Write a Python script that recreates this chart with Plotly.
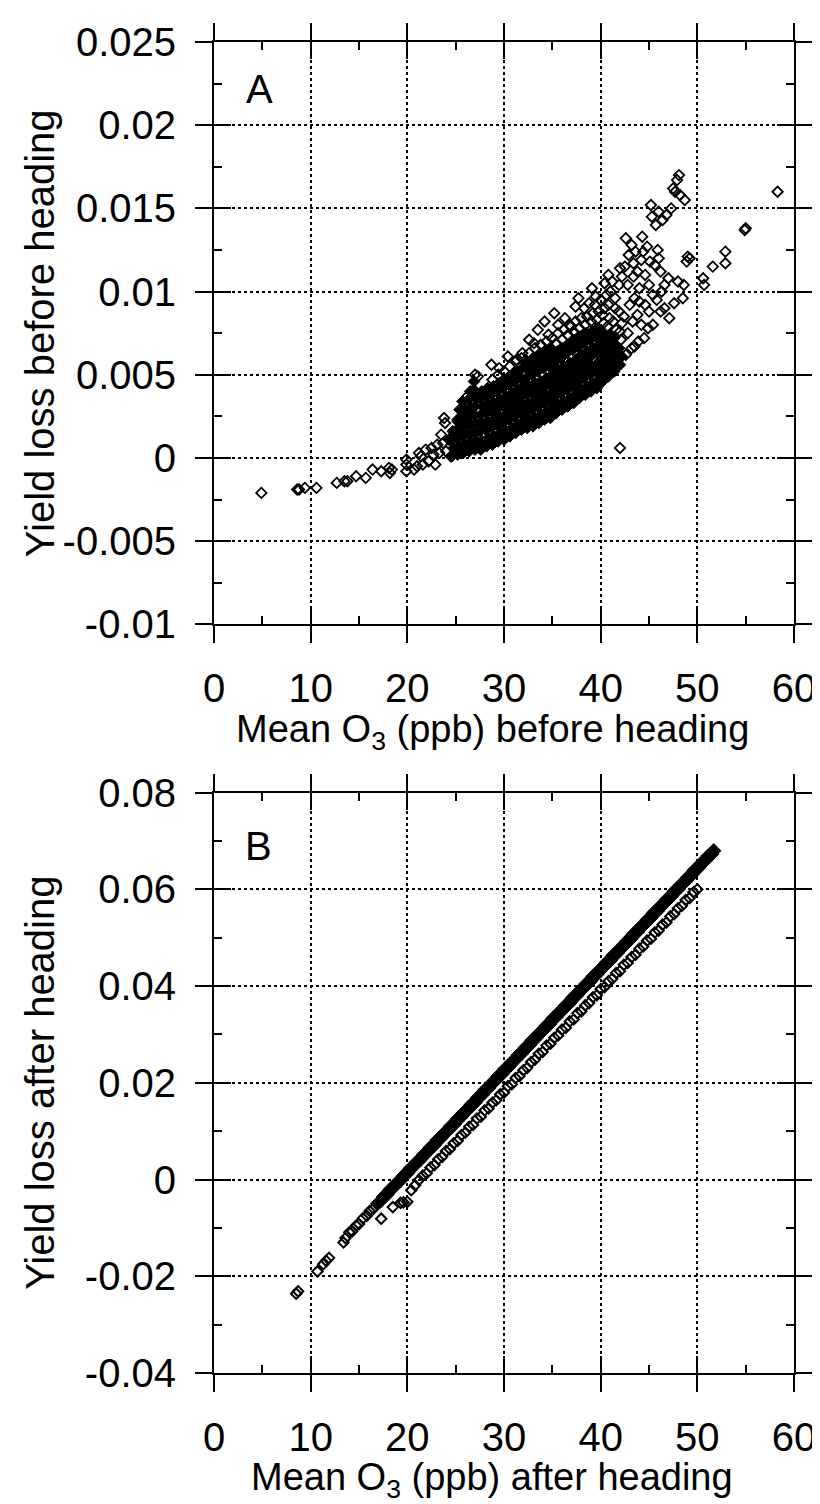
import plotly.graph_objects as go

# ---- panel A: yield loss before heading ----
# isolated points on the left tail of the cloud
tail_a = [
    (4.9, -0.0021), (8.6, -0.0019), (8.8, -0.0019), (9.4, -0.0018), (10.6, -0.0018),
    (12.7, -0.0015), (13.5, -0.0014), (13.8, -0.0014), (14.7, -0.0011), (15.7, -0.0012),
    (16.4, -0.0007), (17.3, -0.0008), (18.1, -0.0006), (18.2, -0.0009), (18.4, -0.0007),
    (19.9, -0.0001), (19.9, -0.0004), (19.9, -0.0008), (20.7, -0.0007), (21.0, -0.0005),
    (21.2, 0.0003), (21.4, 0.0001), (21.6, -0.0004), (21.9, 0.0005), (22.2, -0.0002),
    (22.5, 0.0006), (22.7, 0.0002), (22.9, -0.0004), (23.1, 0.0008), (23.3, 0.0003),
    (23.5, 0.0014), (23.8, 0.0024), (23.9, 0.0021), (23.7, 0.0009), (24.0, 0.0004),
    (24.3, 0.0011), (24.5, 0.0001), (25.2, 0.0022), (26.0, 0.0024),
]

# the dense part of the cloud
core_a = [
    (24.6, 0.0001), (24.8, 0.0006), (24.5, 0.0011), (24.7, 0.0016),
    (25.2, 0.0002), (25.4, 0.0007), (25.1, 0.0012), (25.3, 0.0018), (25.2, 0.0023), (25.4, 0.0029),
    (25.8, 0.0003), (26.0, 0.0008), (25.7, 0.0013), (25.9, 0.0019), (25.8, 0.0024), (26.0, 0.0029), (25.7, 0.0034),
    (26.4, 0.0004), (26.6, 0.0009), (26.3, 0.0014), (26.5, 0.0020), (26.4, 0.0025), (26.6, 0.0030), (26.3, 0.0035), (26.5, 0.0040),
    (27.0, 0.0005), (27.2, 0.0010), (26.9, 0.0015), (27.1, 0.0021), (26.9, 0.0026), (27.0, 0.0031), (27.1, 0.0036), (26.9, 0.0041), (26.9, 0.0046),
    (27.6, 0.0005), (27.8, 0.0010), (27.5, 0.0016), (27.7, 0.0021), (27.6, 0.0026), (27.8, 0.0031), (27.5, 0.0036), (27.7, 0.0040),
    (28.2, 0.0007), (28.4, 0.0012), (28.1, 0.0017), (28.3, 0.0022), (28.2, 0.0027), (28.4, 0.0032), (28.1, 0.0037), (28.3, 0.0042),
    (28.8, 0.0008), (29.0, 0.0013), (28.7, 0.0018), (28.9, 0.0023), (28.8, 0.0028), (29.0, 0.0033), (28.7, 0.0038), (28.9, 0.0043),
    (29.4, 0.0010), (29.6, 0.0015), (29.3, 0.0020), (29.5, 0.0025), (29.4, 0.0030), (29.6, 0.0035), (29.3, 0.0040), (29.5, 0.0045),
    (30.0, 0.0011), (30.2, 0.0016), (29.9, 0.0021), (30.1, 0.0026), (30.0, 0.0031), (30.2, 0.0037), (29.9, 0.0042), (30.1, 0.0047),
    (30.6, 0.0013), (30.8, 0.0018), (30.5, 0.0023), (30.7, 0.0028), (30.6, 0.0033), (30.8, 0.0039), (30.5, 0.0044), (30.7, 0.0049),
    (31.2, 0.0015), (31.4, 0.0020), (31.1, 0.0025), (31.3, 0.0030), (31.2, 0.0035), (31.4, 0.0041), (31.1, 0.0046), (31.3, 0.0052),
    (31.8, 0.0017), (32.0, 0.0022), (31.7, 0.0027), (31.9, 0.0032), (31.8, 0.0037), (32.0, 0.0043), (31.7, 0.0048), (31.9, 0.0054),
    (32.4, 0.0018), (32.6, 0.0023), (32.3, 0.0028), (32.5, 0.0033), (32.4, 0.0038), (32.6, 0.0043), (32.3, 0.0048), (32.5, 0.0053), (32.4, 0.0058),
    (33.0, 0.0019), (33.2, 0.0024), (32.9, 0.0029), (33.1, 0.0034), (33.0, 0.0039), (33.2, 0.0045), (32.9, 0.0050), (33.1, 0.0055), (33.0, 0.0060),
    (33.6, 0.0021), (33.8, 0.0026), (33.5, 0.0031), (33.7, 0.0036), (33.6, 0.0041), (33.8, 0.0046), (33.5, 0.0052), (33.7, 0.0057), (33.6, 0.0062),
    (34.2, 0.0023), (34.4, 0.0028), (34.1, 0.0033), (34.3, 0.0038), (34.2, 0.0043), (34.4, 0.0048), (34.1, 0.0054), (34.3, 0.0059), (34.2, 0.0064),
    (34.8, 0.0024), (35.0, 0.0029), (34.7, 0.0034), (34.9, 0.0039), (34.8, 0.0044), (35.0, 0.0050), (34.7, 0.0055), (34.9, 0.0061), (34.8, 0.0066),
    (35.4, 0.0027), (35.6, 0.0032), (35.3, 0.0037), (35.5, 0.0042), (35.4, 0.0047), (35.6, 0.0053), (35.3, 0.0058), (35.5, 0.0064),
    (36.0, 0.0029), (36.2, 0.0034), (35.9, 0.0039), (36.1, 0.0044), (36.0, 0.0049), (36.2, 0.0055), (35.9, 0.0060), (36.1, 0.0066),
    (36.6, 0.0031), (36.8, 0.0036), (36.5, 0.0041), (36.7, 0.0046), (36.6, 0.0051), (36.8, 0.0057), (36.5, 0.0063), (36.7, 0.0068),
    (37.2, 0.0033), (37.4, 0.0038), (37.1, 0.0043), (37.3, 0.0048), (37.2, 0.0054), (37.4, 0.0059), (37.1, 0.0065), (37.3, 0.0071),
    (37.8, 0.0036), (38.0, 0.0041), (37.7, 0.0046), (37.9, 0.0051), (37.8, 0.0056), (38.0, 0.0062), (37.7, 0.0067), (37.9, 0.0073),
    (38.4, 0.0038), (38.6, 0.0043), (38.3, 0.0048), (38.5, 0.0053), (38.4, 0.0058), (38.6, 0.0064), (38.3, 0.0069), (38.5, 0.0075),
    (39.0, 0.0040), (39.2, 0.0045), (38.9, 0.0050), (39.1, 0.0055), (39.0, 0.0061), (39.2, 0.0066), (38.9, 0.0071), (39.1, 0.0076),
    (39.6, 0.0042), (39.8, 0.0047), (39.5, 0.0052), (39.7, 0.0057), (39.6, 0.0063), (39.8, 0.0068), (39.5, 0.0073), (39.7, 0.0078),
    (40.2, 0.0046), (40.4, 0.0051), (40.1, 0.0056), (40.3, 0.0061), (40.2, 0.0066), (40.4, 0.0071), (40.1, 0.0076),
    (40.8, 0.0049), (41.0, 0.0054), (40.7, 0.0059), (40.9, 0.0064), (40.8, 0.0069), (41.0, 0.0074),
    (41.4, 0.0052), (41.6, 0.0057), (41.3, 0.0062), (41.5, 0.0067), (41.4, 0.0072),
    (42.0, 0.0056), (42.2, 0.0061), (41.9, 0.0066),
]

# open diamonds on the fringe of the cloud and the sparse upper right
upper_a = [
    (28.8, 0.0047), (29.4, 0.0050), (30.0, 0.0052), (30.6, 0.0055), (31.2, 0.0058),
    (31.8, 0.0060), (32.6, 0.0063), (33.2, 0.0066), (33.8, 0.0068), (34.4, 0.0070),
    (35.0, 0.0072), (35.6, 0.0075), (35.4, 0.0069), (36.0, 0.0071), (36.2, 0.0077),
    (36.6, 0.0074), (36.8, 0.0080), (37.2, 0.0076), (37.4, 0.0082), (37.8, 0.0078),
    (38.0, 0.0084), (38.4, 0.0080), (38.6, 0.0085), (39.0, 0.0082), (39.2, 0.0087),
    (39.6, 0.0083), (39.8, 0.0088), (40.2, 0.0086), (40.3, 0.0081), (40.4, 0.0090),
    (40.7, 0.0079), (40.9, 0.0084), (40.8, 0.0092), (41.6, 0.0077), (41.3, 0.0082),
    (41.5, 0.0090), (42.1, 0.0071), (42.0, 0.0076), (42.2, 0.0081), (41.9, 0.0088),
    (26.2, 0.0037), (27.3, 0.0049), (27.0, 0.0050), (28.7, 0.0056), (29.5, 0.0054),
    (30.4, 0.0061), (31.3, 0.0059), (31.9, 0.0063), (32.6, 0.0071), (33.1, 0.0069),
    (33.5, 0.0077), (34.2, 0.0082), (34.6, 0.0074), (35.2, 0.0087), (35.6, 0.0080),
    (36.3, 0.0084), (36.9, 0.0079), (37.4, 0.0091), (37.7, 0.0096), (38.3, 0.0090),
    (38.8, 0.0093), (39.1, 0.0102), (39.5, 0.0097), (40.0, 0.0095), (40.4, 0.0105),
    (40.8, 0.0110), (41.0, 0.0100), (41.5, 0.0096), (41.9, 0.0104), (42.2, 0.0109),
    (42.5, 0.0115), (42.6, 0.0132), (42.9, 0.0122), (43.2, 0.0128), (43.4, 0.0117),
    (43.6, 0.0124), (43.8, 0.0112), (44.0, 0.0102), (44.2, 0.0119), (44.3, 0.0133),
    (44.6, 0.0110), (44.8, 0.0127), (45.0, 0.0104), (45.2, 0.0152), (45.3, 0.0145),
    (45.4, 0.0098), (45.6, 0.0116), (45.7, 0.0140), (45.9, 0.0125), (46.0, 0.0148),
    (46.2, 0.0112), (46.4, 0.0143), (46.6, 0.0090), (46.8, 0.0146), (47.0, 0.0108),
    (47.1, 0.0084), (47.3, 0.0150), (47.5, 0.0162), (47.6, 0.0093), (47.7, 0.0160),
    (47.9, 0.0167), (48.0, 0.0106), (48.1, 0.0170), (48.2, 0.0158), (48.5, 0.0096),
    (48.6, 0.0104), (48.7, 0.0155), (48.9, 0.0118), (49.0, 0.0121), (49.2, 0.0120),
    (50.6, 0.0108), (50.7, 0.0104), (51.6, 0.0115), (52.9, 0.0124), (52.9, 0.0117),
    (54.9, 0.0137), (55.0, 0.0138), (58.3, 0.0160), (42.0, 0.0006),
    (42.6, 0.0062), (43.2, 0.0066), (43.5, 0.0067), (43.9, 0.0070), (44.5, 0.0072),
    (44.9, 0.0078), (45.4, 0.0080), (46.2, 0.0088), (42.8, 0.0075), (43.3, 0.0082),
    (43.8, 0.0086), (44.2, 0.0080), (44.6, 0.0092), (45.0, 0.0088), (42.4, 0.0085),
    (43.0, 0.0092), (43.5, 0.0096), (44.0, 0.0094), (45.8, 0.0095), (46.3, 0.0100),
    (39.4, 0.0092), (40.6, 0.0098), (41.2, 0.0106), (42.0, 0.0114), (42.8, 0.0104),
    (43.4, 0.0109), (44.4, 0.0124), (45.1, 0.0118), (46.0, 0.0120), (46.6, 0.0104),
]

# ---- panel B: yield loss after heading ----
# thin start of the upper line
thin_b = [
    (13.6, -0.0121), (14.0, -0.0109), (14.3, -0.0107), (14.7, -0.0095), (15.0, -0.0092),
    (15.4, -0.0080), (15.8, -0.0075), (16.1, -0.0065), (16.5, -0.0060), (16.8, -0.0050),
]

# upper, solid-looking band
upper_b = [
    (17.2, -0.0045), (17.5, -0.0036), (17.9, -0.0031), (18.2, -0.0021), (18.6, -0.0016),
    (18.9, -0.0007), (19.3, -0.0002), (19.6, 0.0008), (20.0, 0.0013), (20.3, 0.0023),
    (20.7, 0.0028), (21.0, 0.0037), (21.4, 0.0042), (21.7, 0.0052), (22.1, 0.0057),
    (22.4, 0.0067), (22.8, 0.0071), (23.1, 0.0082), (23.5, 0.0086), (23.8, 0.0096),
    (24.2, 0.0101), (24.5, 0.0111), (24.9, 0.0115), (25.2, 0.0126), (25.6, 0.0130),
    (25.9, 0.0140), (26.3, 0.0145), (26.6, 0.0155), (27.0, 0.0159), (27.3, 0.0170),
    (27.7, 0.0174), (28.0, 0.0185), (28.4, 0.0189), (28.7, 0.0199), (29.1, 0.0204),
    (29.4, 0.0214), (29.8, 0.0218), (30.1, 0.0229), (30.5, 0.0233), (30.8, 0.0243),
    (31.2, 0.0248), (31.5, 0.0258), (31.9, 0.0262), (32.2, 0.0273), (32.6, 0.0277),
    (32.9, 0.0288), (33.3, 0.0292), (33.6, 0.0302), (34.0, 0.0307), (34.3, 0.0317),
    (34.7, 0.0321), (35.0, 0.0332), (35.4, 0.0336), (35.7, 0.0346), (36.1, 0.0351),
    (36.4, 0.0361), (36.8, 0.0365), (37.1, 0.0376), (37.5, 0.0380), (37.8, 0.0390),
    (38.2, 0.0395), (38.5, 0.0405), (38.9, 0.0409), (39.2, 0.0420), (39.6, 0.0424),
    (39.9, 0.0434), (40.3, 0.0439), (40.6, 0.0449), (41.0, 0.0453), (41.3, 0.0464),
    (41.7, 0.0468), (42.0, 0.0478), (42.4, 0.0483), (42.7, 0.0493), (43.1, 0.0497),
    (43.4, 0.0508), (43.8, 0.0512), (44.1, 0.0522), (44.5, 0.0527), (44.8, 0.0537),
    (45.2, 0.0541), (45.5, 0.0552), (45.9, 0.0556), (46.2, 0.0566), (46.6, 0.0571),
    (46.9, 0.0581), (47.3, 0.0585), (47.6, 0.0596), (48.0, 0.0600), (48.3, 0.0610),
    (48.7, 0.0615), (49.0, 0.0625), (49.4, 0.0629), (49.7, 0.0640), (50.1, 0.0644),
    (50.4, 0.0654), (50.8, 0.0659), (51.1, 0.0669), (51.5, 0.0673), (51.7, 0.0680),
]

# lower line of open diamonds
lower_b = [
    (17.3, -0.0081), (18.5, -0.0057), (19.3, -0.0048), (19.6, -0.0047), (20.0, -0.0046),
    (20.4, -0.0022), (20.8, -0.0012), (21.2, -0.0001), (21.6, 0.0008), (22.0, 0.0013),
    (22.4, 0.0025), (22.8, 0.0030), (23.2, 0.0042), (23.6, 0.0047), (24.0, 0.0059),
    (24.4, 0.0063), (24.8, 0.0075), (25.2, 0.0080), (25.6, 0.0092), (26.0, 0.0097),
    (26.4, 0.0109), (26.8, 0.0113), (27.2, 0.0126), (27.6, 0.0130), (28.0, 0.0143),
    (28.4, 0.0147), (28.8, 0.0159), (29.2, 0.0164), (29.6, 0.0176), (30.0, 0.0180),
    (30.4, 0.0193), (30.8, 0.0197), (31.2, 0.0210), (31.6, 0.0214), (32.0, 0.0226),
    (32.4, 0.0231), (32.8, 0.0243), (33.2, 0.0248), (33.6, 0.0260), (34.0, 0.0264),
    (34.4, 0.0277), (34.8, 0.0281), (35.2, 0.0293), (35.6, 0.0298), (36.0, 0.0310),
    (36.4, 0.0314), (36.8, 0.0327), (37.2, 0.0331), (37.6, 0.0344), (38.0, 0.0348),
    (38.4, 0.0360), (38.8, 0.0365), (39.2, 0.0377), (39.6, 0.0381), (40.0, 0.0394),
    (40.4, 0.0398), (40.8, 0.0410), (41.2, 0.0415), (41.6, 0.0427), (42.0, 0.0431),
    (42.4, 0.0444), (42.8, 0.0448), (43.2, 0.0460), (43.6, 0.0465), (44.0, 0.0477),
    (44.4, 0.0482), (44.8, 0.0494), (45.2, 0.0498), (45.6, 0.0511), (46.0, 0.0515),
    (46.4, 0.0527), (46.8, 0.0532), (47.2, 0.0544), (47.6, 0.0549), (48.0, 0.0561),
    (48.4, 0.0566), (48.8, 0.0578), (49.2, 0.0582), (49.6, 0.0594), (50.0, 0.0600),
]

tail_b = [
    (8.5, -0.0236), (8.7, -0.0231), (10.7, -0.0190), (11.3, -0.0175), (11.6, -0.0168),
    (11.9, -0.0162), (13.4, -0.0130),
]

x_ticks = [0, 10, 20, 30, 40, 50, 60]
x_minor = [5, 15, 25, 35, 45, 55]
ya_ticks = [-0.01, -0.005, 0, 0.005, 0.01, 0.015, 0.02, 0.025]
ya_labels = ["-0.01", "-0.005", "0", "0.005", "0.01", "0.015", "0.02", "0.025"]
ya_minor = [-0.0075, -0.0025, 0.0025, 0.0075, 0.0125, 0.0175, 0.0225]
yb_ticks = [-0.04, -0.02, 0, 0.02, 0.04, 0.06, 0.08]
yb_labels = ["-0.04", "-0.02", "0", "0.02", "0.04", "0.06", "0.08"]
yb_minor = [-0.03, -0.01, 0.01, 0.03, 0.05, 0.07]

FONT = "Liberation Sans, Arial, Helvetica, sans-serif"
open_mk = dict(symbol="diamond-open", size=8, color="black", line=dict(width=1.8, color="black"))
core_mk = dict(symbol="diamond", size=9, color="black", line=dict(width=1, color="black"))
band_mk = dict(symbol="diamond", size=11, color="black", line=dict(width=1, color="black"))
lower_mk = dict(symbol="diamond-open", size=8, color="black", line=dict(width=2, color="black"))

fig = go.Figure()


def add_points(pts, mk, xa, ya):
    xs, ys = zip(*pts)
    fig.add_trace(go.Scatter(x=xs, y=ys, mode="markers", marker=mk,
                             xaxis=xa, yaxis=ya, showlegend=False, hoverinfo="x+y"))


add_points(core_a, core_mk, "x", "y")
add_points(tail_a + upper_a, open_mk, "x", "y")
add_points(upper_b, band_mk, "x2", "y2")
add_points(lower_b + tail_b + thin_b, lower_mk, "x2", "y2")
# empty traces so the overlay axes (inner half of the major ticks) get drawn
fig.add_trace(go.Scatter(x=[], y=[], xaxis="x3", yaxis="y3", showlegend=False))
fig.add_trace(go.Scatter(x=[], y=[], xaxis="x4", yaxis="y4", showlegend=False))


def main_axis(rng, vals, text, minor_vals, domain, anchor):
    return dict(range=rng, domain=domain, anchor=anchor, tickvals=vals, ticktext=text,
                ticks="outside", ticklen=17, tickwidth=2, tickcolor="black",
                showline=True, linewidth=2, linecolor="black", mirror="ticks",
                showgrid=True, gridcolor="black", griddash="dot", gridwidth=1.5,
                zeroline=False, ticklabelstandoff=11,
                tickfont=dict(family=FONT, size=40, color="black"),
                minor=dict(tickvals=minor_vals, ticks="inside", ticklen=8, tickwidth=1.5,
                           tickcolor="black", showgrid=False))


def inner_axis(rng, vals, over, anchor):
    return dict(range=rng, tickvals=vals, overlaying=over, anchor=anchor,
                ticks="inside", ticklen=17, tickwidth=2, tickcolor="black",
                showline=False, mirror="ticks", showgrid=False, zeroline=False,
                showticklabels=False)


dom_a = [0.5625, 1.0]
dom_b = [0.0, 0.436]
ra = [-0.01, 0.025]
rb = [-0.04, 0.08]
rx = [0, 60]

fig.update_layout(
    width=820, height=1504,
    margin=dict(l=206, r=29, t=30, b=139),
    paper_bgcolor="white", plot_bgcolor="white",
    font=dict(family=FONT, color="black"),
    xaxis=main_axis(rx, x_ticks, [str(v) for v in x_ticks], x_minor, [0, 1], "y"),
    yaxis=main_axis(ra, ya_ticks, ya_labels, ya_minor, dom_a, "x"),
    xaxis2=main_axis(rx, x_ticks, [str(v) for v in x_ticks], x_minor, [0, 1], "y2"),
    yaxis2=main_axis(rb, yb_ticks, yb_labels, yb_minor, dom_b, "x2"),
    xaxis3=inner_axis(rx, x_ticks, "x", "y"),
    yaxis3=inner_axis(ra, ya_ticks, "y", "x"),
    xaxis4=inner_axis(rx, x_ticks, "x2", "y2"),
    yaxis4=inner_axis(rb, yb_ticks, "y2", "x2"),
)

ann = dict(showarrow=False, font=dict(family=FONT, size=40, color="black"))
fig.add_annotation(text="A", x=4.7, y=0.0222, xref="x", yref="y", **ann)
fig.add_annotation(text="B", x=4.6, y=0.069, xref="x2", yref="y2", **ann)
fig.add_annotation(text="Yield loss before heading", textangle=-90,
                   x=0, xref="paper", xshift=-174, xanchor="center",
                   y=sum(dom_a) / 2, yref="paper", yanchor="middle", **ann)
fig.add_annotation(text="Yield loss after heading", textangle=-90,
                   x=0, xref="paper", xshift=-174, xanchor="center",
                   y=sum(dom_b) / 2, yref="paper", yanchor="middle", **ann)
fig.add_annotation(text="Mean O<sub>3</sub> (ppb) before heading",
                   x=0.5, xref="paper", xshift=-12, xanchor="center",
                   y=0.5011, yref="paper", yanchor="top",
                   showarrow=False, font=dict(family=FONT, size=38, color="black"))
fig.add_annotation(text="Mean O<sub>3</sub> (ppb) after heading",
                   x=0.5, xref="paper", xshift=-12, xanchor="center",
                   y=-0.0607, yref="paper", yanchor="top",
                   showarrow=False, font=dict(family=FONT, size=38, color="black"))

fig.write_html("out.html")
